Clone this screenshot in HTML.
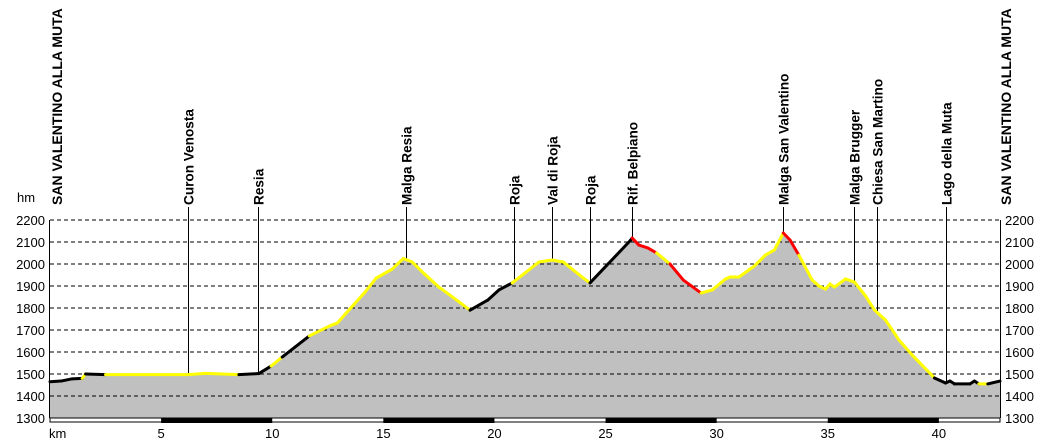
<!DOCTYPE html>
<html><head><meta charset="utf-8"><style>
body{margin:0;background:#fff;width:1050px;height:443px;overflow:hidden}
svg{display:block;font-family:"Liberation Sans",sans-serif}
</style></head><body>
<svg id="c" width="1050" height="443"></svg>
<script>
const kms=[0,0.5,1.0,1.45,1.6,2.5,6.2,7.0,8.5,9.4,9.95,10.45,11.67,12.57,12.93,13.33,14.14,14.68,15.4,15.9,16.3,16.85,17.5,18.3,18.9,19.7,20.2,20.8,22.0,22.6,23.1,24.0,24.3,26.1,26.2,26.5,26.9,27.3,27.9,28.5,29.3,29.8,30.4,30.6,31.0,31.7,32.2,32.6,33.0,33.3,33.7,34.3,34.6,34.9,35.1,35.3,35.8,36.2,36.7,37.1,37.6,38.2,38.8,39.8,40.3,40.5,40.7,41.4,41.6,41.8,42.2,42.75];
const elev=[1465,1468,1478,1480,1500,1497,1497,1503,1497,1502,1536,1577,1673,1718,1732,1777,1868,1936,1977,2025,2009,1955,1895,1836,1790,1836,1882,1914,2009,2018,2009,1936,1914,2105,2118,2086,2073,2050,2000,1927,1868,1882,1932,1941,1941,1991,2041,2064,2141,2109,2040,1927,1900,1886,1909,1895,1932,1918,1855,1791,1745,1655,1586,1482,1459,1468,1455,1455,1468,1455,1455,1468];
const segColor=("kkky"+"kyyy"+"kkyk"+"yyyyyyyyyyyy"+"kkk"+"yyyyy"+"kk"+"rrr"+"y"+"rr"+"yyyyyyyy"+"rr"+"yyyyyyyyyyyyy"+"kkkkkk"+"y"+"k").split('');
const yTicks=[1300,1400,1500,1600,1700,1800,1900,2000,2100,2200];
const xTicks=[5,10,15,20,25,30,35,40];
const placeNames=["Curon Venosta","Resia","Malga Resia","Roja","Val di Roja","Roja","Rif. Belpiano","Malga San Valentino","Malga Brugger","Chiesa San Martino","Lago della Muta"];
const placeKm=[6.2,9.35,16.0,20.9,22.6,24.3,26.2,33.0,36.2,37.2,40.3];
const NS="http://www.w3.org/2000/svg";
const svg=document.getElementById('c');
const X0=50,X1=1000,Y0=418,Y1=220,KMAX=42.75,EMIN=1300,EMAX=2200;
const xs=k=>X0+(k/KMAX)*(X1-X0);
const ys=e=>Y0-(e-EMIN)/(EMAX-EMIN)*(Y0-Y1);
function mk(t,a,txt){const e=document.createElementNS(NS,t);for(const k in a)e.setAttribute(k,a[k]);if(txt!=null)e.textContent=txt;svg.appendChild(e);return e;}
function elevAt(k){for(let i=0;i<kms.length-1;i++){if(k>=kms[i]&&k<=kms[i+1]){const t=(k-kms[i])/(kms[i+1]-kms[i]);return elev[i]+t*(elev[i+1]-elev[i]);}}return elev[elev.length-1];}
let pts=kms.map((k,i)=>xs(k)+','+ys(elev[i])).join(' ');
let area=mk('polygon',{points:X0+','+Y0+' '+pts+' '+X1+','+Y0,fill:'#c0c0c0'});


yTicks.forEach(v=>{
 if(v>EMIN){let g=mk('line',{x1:X0,x2:X1,y1:ys(v),y2:ys(v),stroke:'#000','stroke-width':1,'stroke-dasharray':'4,3'});
 
 }
 let l=mk('text',{x:45,y:ys(v)+5,'font-size':13,'text-anchor':'end'},v);
 
 
 let r=mk('text',{x:1005,y:ys(v)+5,'font-size':13},v);
 
 
});
placeNames.forEach((n,i)=>{
 const x=Math.round(xs(placeKm[i]))+0.5;
 let ln=mk('line',{x1:x,x2:x,y1:207,y2:ys(elevAt(placeKm[i])),stroke:'#000','stroke-width':1});
 
 
 let t=mk('text',{x:0,y:0,'font-size':13.6,'font-weight':'bold',transform:`translate(${x+5},205) rotate(-90)`},n);
 
 
});
[[57,'start-label'],[1006,'end-label']].forEach(([x,nm])=>{
 let t=mk('text',{x:0,y:0,'font-size':14,'font-weight':'bold',transform:`translate(${x+5},205) rotate(-90)`},'SAN VALENTINO ALLA MUTA');
 
 
});
const cmap={k:'#000',y:'#ffff00',r:'#ff0000'};
for(let i=0;i<kms.length-1;i++){
 let s=mk('line',{x1:xs(kms[i]),y1:ys(elev[i]),x2:xs(kms[i+1]),y2:ys(elev[i+1]),stroke:cmap[segColor[i]]||'#000','stroke-width':3,'stroke-linecap':'round'});
 
 
}
let ax=mk('path',{d:`M${X0-0.5},${Y1}V${Y0}M${X1+0.5},${Y1}V${Y0}`,stroke:'#000','stroke-width':1,fill:'none'});


let bar=mk('rect',{x:X0,y:418,width:X1-X0,height:4,fill:'#fff',stroke:'#000','stroke-width':1});


for(let k=5;k<KMAX;k+=10){
 let b=mk('rect',{x:xs(k),y:418,width:Math.min(xs(k+5),X1)-xs(k),height:5,fill:'#000'});
 
 
}
xTicks.forEach(v=>{
 let t=mk('text',{x:xs(v),y:438,'font-size':13,'text-anchor':'middle'},v);
 
 
});
let km=mk('text',{x:49,y:438,'font-size':13},'km');


let hm=mk('text',{x:17,y:202,'font-size':13},'hm');


</script>
</body></html>
